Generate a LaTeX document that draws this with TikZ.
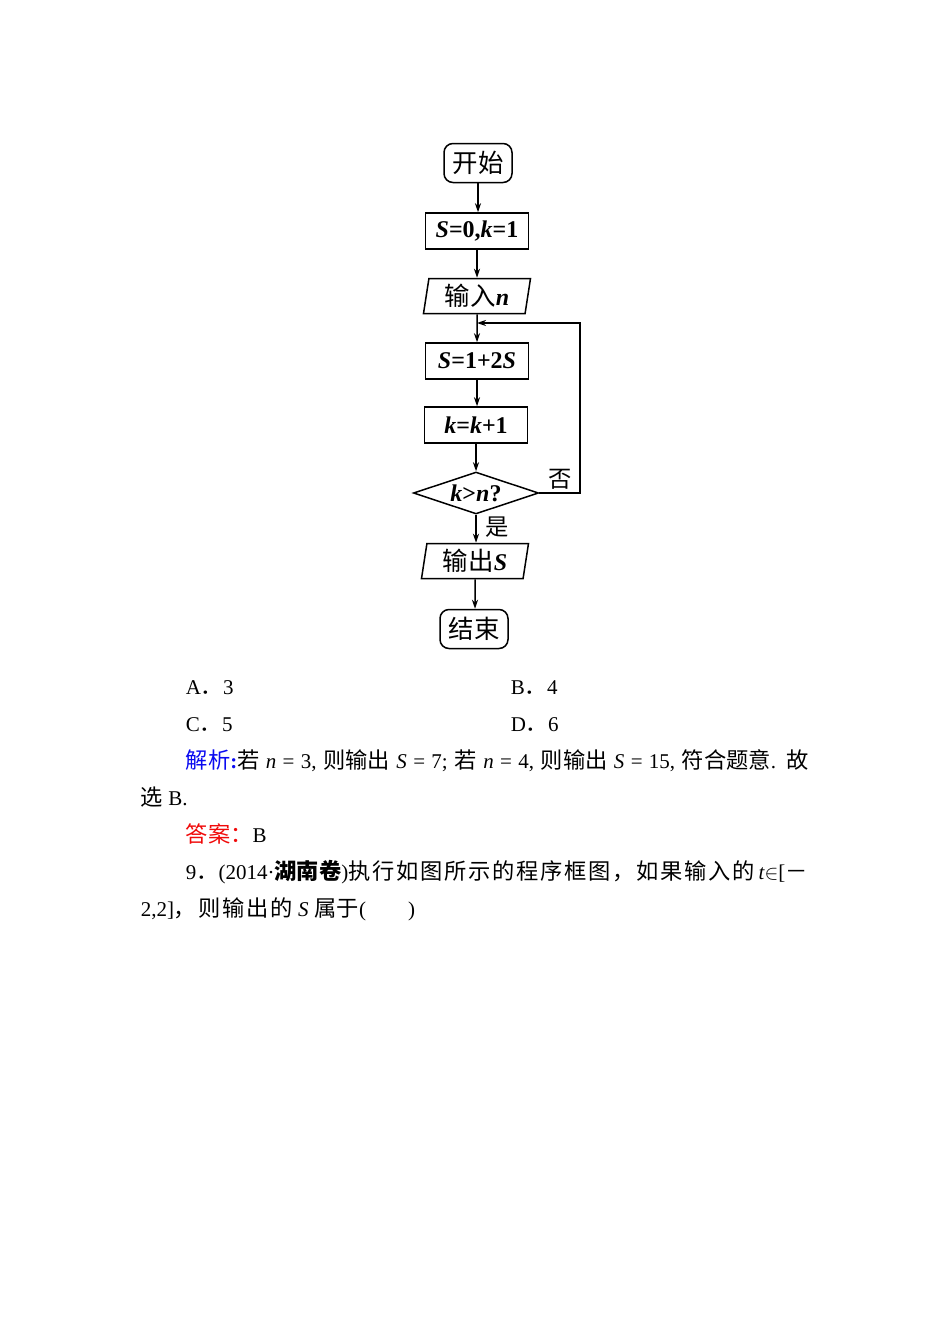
\documentclass[tikz,border=0pt]{standalone}
\usepackage{amsmath}
\usepackage{fontspec}
\setmainfont{Liberation Serif}
\newfontfamily\cjk[Scale=1.06]{Noto Sans CJK SC}
\newfontfamily\cjkwide[Scale=1.06,LetterSpace=8]{Noto Sans CJK SC}
\usetikzlibrary{shapes.geometric,arrows.meta}
\definecolor{jxblue}{RGB}{10,10,240}
\definecolor{ansred}{RGB}{240,10,10}
\newcommand{\zh}[1]{{\cjk\mdseries #1}}
\newcommand{\zhw}[1]{{\cjkwide\mdseries #1}}
\newcommand{\zhb}[1]{{\cjk\bfseries #1}}
\newcommand{\vi}[1]{{\itshape #1}}

\begin{document}
\begin{tikzpicture}[x=1pt,y=-1pt,line width=1.5pt,
  flow/.style={font=\fontsize{24}{24}\selectfont\bfseries},
  startstop/.style={flow,draw,rounded corners=9pt,minimum width=68pt,minimum height=39pt,inner sep=0pt},
  procbox/.style={flow,draw,minimum width=103pt,minimum height=36pt,inner sep=0pt},
  iobox/.style={flow,draw,trapezium,trapezium left angle=77,trapezium right angle=103,trapezium stretches body,minimum width=107pt,minimum height=35pt,inner sep=0pt},
  decide/.style={flow,draw,diamond,aspect=3,minimum width=125pt,minimum height=42pt,inner sep=0pt},
  arr/.style={-{Stealth[length=9pt,width=6pt]}},
  lbl/.style={inner sep=0pt,font=\fontsize{22}{22}\selectfont},
  txt/.style={anchor=base west,inner sep=0pt,font=\fontsize{21}{21}\selectfont}]

\useasboundingbox (0,0) rectangle (950,1344);

\node[startstop] (start) at (478,163) {\zh{开始}};
\node[procbox] (init) at (477,231) {\vi{S}=0,\vi{k}=1};
\node[iobox] (input) at (477,296) {\zh{输入}\vi{n}};
\node[procbox] (sum) at (477,361) {\vi{S}=1+2\vi{S}};
\node[procbox] (inc) at (476,425) {\vi{k}=\vi{k}+1};
\node[decide] (cond) at (476,493) {\vi{k}>\vi{n}?};
\node[iobox] (output) at (475,561) {\zh{输出}\vi{S}};
\node[startstop] (stop) at (474,629) {\zh{结束}};

\draw[arr] (start)--(start |- init.north);\draw[arr] (init)--(init |- input.north);\draw[arr] (input)--(input |- sum.north);
\draw[arr] (sum)--(sum |- inc.north);\draw[arr] (inc)--(inc |- cond.north);\draw[arr] (cond)--(cond |- output.north);\draw[arr] (output)--(output |- stop.north);

%loop back
\coordinate (back) at (580,323);\coordinate (join) at (477,323);
\draw[arr] (cond.east) -| (back) -- (join);

\node[lbl] (no) at (560,479) {\zh{否}};\node[lbl] (yes) at (497,527) {\zh{是}};

%text below
\node[txt] (optA) at (185,694) {A\zh{．}3};\node[txt] (optB) at (510,694) {B\zh{．}4};
\node[txt] (optC) at (185,731) {C\zh{．}5};\node[txt] (optD) at (510,731) {D\zh{．}6};
\node[txt] (jx1) at (185,768) {\makebox[623pt][s]{\textcolor{jxblue}{\zh{解析}\textbf{:}}\zh{若} \vi{n} = 3, \zh{则输出} \vi{S} = 7; \zh{若} \vi{n} = 4, \zh{则输出} \vi{S} = 15, \zh{符合题意}. \zh{故}}};
\node[txt] (jx2) at (140,805) {\zh{选} B.};
\node[txt] (ans) at (185,842) {\textcolor{ansred}{\zh{答案：}}B};
\node[txt] (q9a) at (185,879) {9\zh{．}(2014·\zhb{湖南卷})\zhw{执行如图所示的程序框图，如果输入的}\,\vi{t}$\in$[\zh{－}};
\node[txt] (q9b) at (140,916) {2,2]\zhw{，则输出的}\;\vi{S}\;\zh{属于}(\hspace{42pt})};

\end{tikzpicture}
\end{document}
